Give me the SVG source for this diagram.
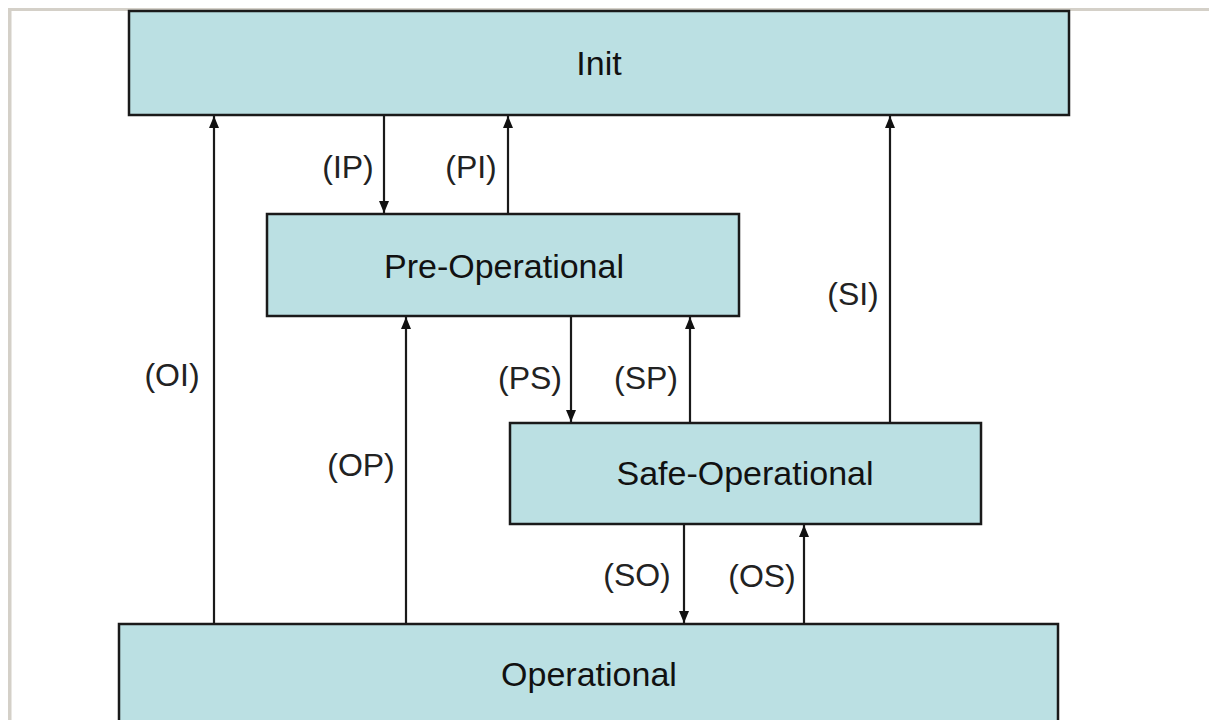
<svg xmlns="http://www.w3.org/2000/svg" width="1209" height="720" viewBox="0 0 1209 720">
<style>
.box{fill:#bbe0e3;stroke:#1a1a1a;stroke-width:2.5}
.t{font-family:"Liberation Sans",Arial,sans-serif;font-size:34px;fill:#111;text-anchor:middle}
.l{font-family:"Liberation Sans",Arial,sans-serif;font-size:32px;fill:#222;text-anchor:middle}
.c{stroke:#1a1a1a;stroke-width:2.2;fill:none;marker-end:url(#ah)}
</style>
<defs>
<marker id="ah" viewBox="0 0 12 12" refX="12" refY="6" markerWidth="12" markerHeight="12" markerUnits="userSpaceOnUse" orient="auto">
<path d="M0,1 L12,6 L0,11 Z" fill="#111"/>
</marker>
</defs>
<rect width="1209" height="720" fill="#fff"/>
<rect x="8" y="8" width="1201" height="3" fill="#d4d0c8"/>
<rect x="8" y="8" width="3.5" height="712" fill="#d4d0c8"/>
<g id="connectors">
<line class="c" x1="214" y1="624" x2="214" y2="116"/>
<line class="c" x1="384" y1="115" x2="384" y2="213"/>
<line class="c" x1="508" y1="214" x2="508" y2="116"/>
<line class="c" x1="890" y1="423" x2="890" y2="116"/>
<line class="c" x1="406" y1="624" x2="406" y2="317"/>
<line class="c" x1="571" y1="316" x2="571" y2="422"/>
<line class="c" x1="690" y1="423" x2="690" y2="317"/>
<line class="c" x1="684" y1="524" x2="684" y2="623"/>
<line class="c" x1="804" y1="624" x2="804" y2="525"/>
<text class="l" x="348" y="178">(IP)</text>
<text class="l" x="471" y="178">(PI)</text>
<text class="l" x="853" y="305">(SI)</text>
<text class="l" x="172" y="386">(OI)</text>
<text class="l" x="361" y="476">(OP)</text>
<text class="l" x="530" y="389">(PS)</text>
<text class="l" x="646" y="389">(SP)</text>
<text class="l" x="637" y="586">(SO)</text>
<text class="l" x="762" y="587">(OS)</text>
</g>
<g id="init"><rect class="box" x="129" y="11" width="940" height="104"/><text class="t" x="599" y="75">Init</text></g>
<g id="preop"><rect class="box" x="267" y="214" width="472" height="102"/><text class="t" x="504" y="278">Pre-Operational</text></g>
<g id="safeop"><rect class="box" x="510" y="423" width="471" height="101"/><text class="t" x="745" y="485">Safe-Operational</text></g>
<g id="op"><rect class="box" x="119" y="624" width="939" height="110"/><text class="t" x="589" y="686">Operational</text></g>
</svg>
